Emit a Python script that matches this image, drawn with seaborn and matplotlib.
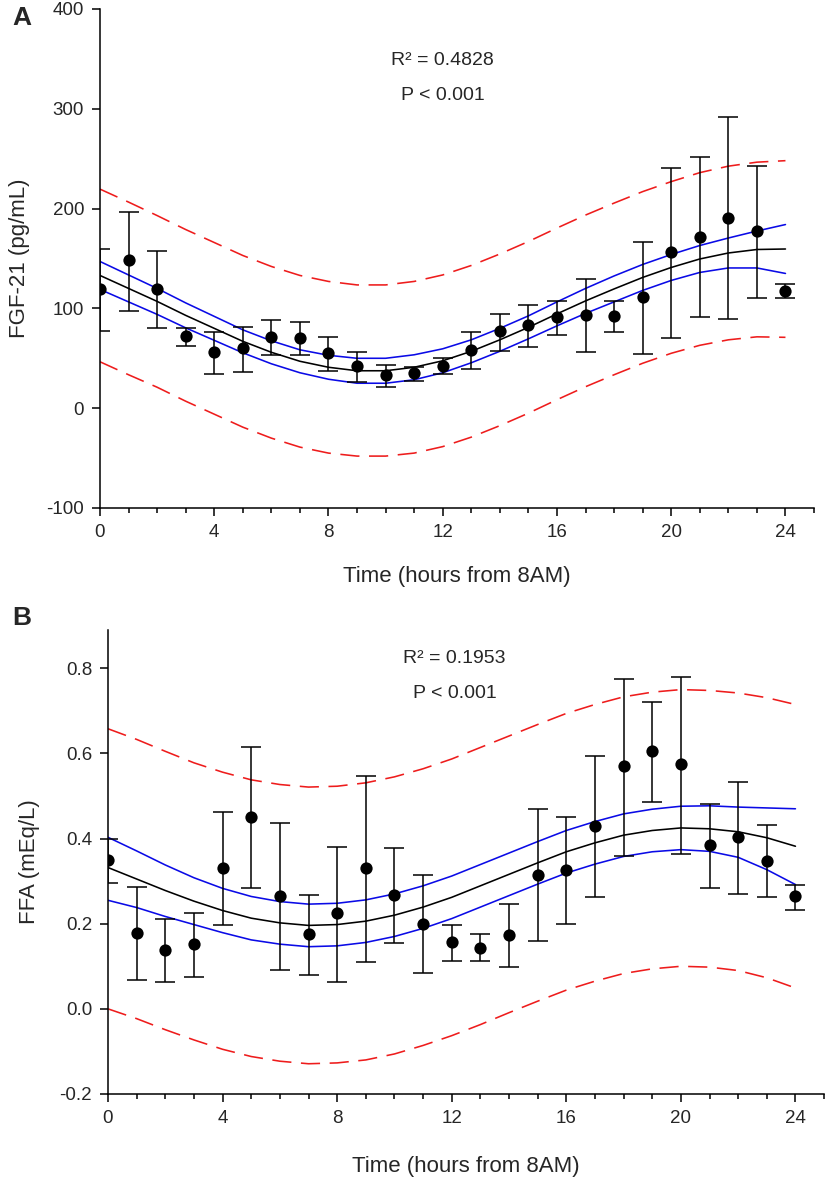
import numpy as np
import pandas as pd
import matplotlib
matplotlib.use("Agg")
import matplotlib.pyplot as plt
from matplotlib.ticker import MultipleLocator, FormatStrFormatter
import seaborn as sns

# hours from 8AM
hours = list(range(25))

# FGF-21 (pg/mL): mean with error bar ends
fgf_mean = [119, 148, 119, 72, 56, 60, 71, 70, 55, 42, 33, 35, 42, 58, 77, 83, 91, 93, 92, 111, 156, 172, 191, 178, 117]
fgf_hi = [159, 197, 157, 80, 76, 81, 88, 86, 71, 56, 43, 41, 50, 76, 94, 103, 107, 129, 107, 167, 241, 252, 292, 243, 124]
fgf_lo = [77, 97, 80, 62, 34, 36, 53, 53, 37, 26, 21, 27, 34, 39, 57, 61, 73, 56, 76, 54, 70, 91, 89, 110, 110]
# fitted curve, confidence band, prediction band
fgf_fit = [133, 120, 107, 93, 80, 67, 56, 47, 41, 37.5, 37.5, 41, 47.5, 57, 68.5, 81, 94.5, 107.5, 119.5, 131, 141, 149.5, 155.5, 159, 159.5]
fgf_ci_hi = [147, 133.5, 120, 105.5, 92, 78.5, 67.5, 58.5, 53, 50, 50, 53.5, 59.5, 68.5, 80, 92.5, 106.5, 120, 132.5, 144, 154, 163, 170.5, 177.5, 184]
fgf_ci_lo = [119, 106.5, 94, 80.5, 68, 55.5, 44.5, 35.5, 29, 25, 25, 28.5, 35.5, 45.5, 57, 69.5, 82.5, 95, 106.5, 118, 128, 136, 140.5, 140.5, 135]
fgf_pi_hi = [219.5, 206.5, 193, 179, 166, 153, 142, 133, 127, 123.5, 123.5, 127, 133.5, 143, 154.5, 167, 180.5, 193.5, 205.5, 217, 227, 236, 242.5, 246.5, 248]
fgf_pi_lo = [46.5, 33.5, 21, 7, -6, -19, -30, -39, -45, -48, -48, -45, -38.5, -29, -17.5, -5, 8.5, 21.5, 33.5, 45, 55, 63, 68.5, 71.5, 71]

# FFA (mEq/L)
ffa_mean = [0.350, 0.178, 0.138, 0.152, 0.332, 0.451, 0.266, 0.175, 0.224, 0.332, 0.267, 0.200, 0.156, 0.144, 0.174, 0.315, 0.327, 0.430, 0.570, 0.606, 0.575, 0.385, 0.403, 0.348, 0.264]
ffa_hi = [0.400, 0.286, 0.210, 0.224, 0.463, 0.615, 0.436, 0.268, 0.381, 0.548, 0.378, 0.315, 0.198, 0.176, 0.247, 0.470, 0.450, 0.595, 0.776, 0.722, 0.780, 0.482, 0.533, 0.431, 0.292]
ffa_lo = [0.295, 0.067, 0.062, 0.075, 0.197, 0.283, 0.091, 0.079, 0.064, 0.110, 0.154, 0.084, 0.113, 0.112, 0.098, 0.159, 0.200, 0.263, 0.360, 0.487, 0.364, 0.285, 0.269, 0.262, 0.232]
ffa_fit = [0.332, 0.305, 0.278, 0.253, 0.231, 0.213, 0.202, 0.196, 0.198, 0.206, 0.220, 0.239, 0.262, 0.289, 0.316, 0.343, 0.369, 0.390, 0.408, 0.419, 0.425, 0.423, 0.416, 0.402, 0.382]
ffa_ci_hi = [0.403, 0.371, 0.338, 0.308, 0.283, 0.264, 0.252, 0.246, 0.248, 0.256, 0.270, 0.289, 0.312, 0.339, 0.366, 0.393, 0.419, 0.440, 0.458, 0.469, 0.476, 0.477, 0.474, 0.472, 0.470]
ffa_ci_lo = [0.255, 0.238, 0.217, 0.198, 0.179, 0.162, 0.152, 0.146, 0.148, 0.156, 0.170, 0.189, 0.212, 0.239, 0.266, 0.293, 0.319, 0.340, 0.358, 0.369, 0.374, 0.370, 0.356, 0.327, 0.292]
ffa_pi_hi = [0.658, 0.633, 0.605, 0.578, 0.556, 0.538, 0.527, 0.521, 0.523, 0.531, 0.545, 0.564, 0.587, 0.614, 0.641, 0.668, 0.694, 0.715, 0.733, 0.744, 0.750, 0.748, 0.742, 0.731, 0.715]
ffa_pi_lo = [0.000, -0.023, -0.049, -0.073, -0.095, -0.112, -0.123, -0.129, -0.127, -0.120, -0.106, -0.086, -0.063, -0.037, -0.009, 0.018, 0.044, 0.065, 0.083, 0.094, 0.100, 0.098, 0.090, 0.073, 0.049]

sns.set_theme(style="ticks")
plt.rcParams['font.family'] = ['Liberation Sans', 'DejaVu Sans']
plt.rcParams['axes.unicode_minus'] = False

RED = "#ee1c1c"
BLUE = "#0a0ae6"
DASH = (0, (12, 6))


def draw_panel(ax, mean, hi, lo, fit, ci_hi, ci_lo, pi_hi, pi_lo):
    df = pd.DataFrame({"t": hours, "mean": mean, "hi": hi, "lo": lo, "fit": fit,
                       "ci_hi": ci_hi, "ci_lo": ci_lo, "pi_hi": pi_hi, "pi_lo": pi_lo})
    curves = [("pi_hi", RED, DASH), ("pi_lo", RED, DASH),
              ("ci_hi", BLUE, "-"), ("ci_lo", BLUE, "-"), ("fit", "black", "-")]
    for col, color, ls in curves:
        sns.lineplot(data=df, x="t", y=col, ax=ax, color=color, linewidth=1.15,
                     linestyle=ls, errorbar=None, zorder=2)
    m = np.array(mean)
    ax.errorbar(df["t"], m, yerr=[m - np.array(lo), np.array(hi) - m], fmt="none",
                ecolor="black", elinewidth=1.1, capsize=7, capthick=1.1, zorder=3)
    sns.scatterplot(data=df, x="t", y="mean", ax=ax, color="black", s=78,
                    linewidth=0, zorder=4)
    ax.set_xlim(0, 25)
    ax.set_xticks(range(0, 25, 4))
    ax.xaxis.set_minor_locator(MultipleLocator(1))
    sns.despine(ax=ax)
    for s in ["left", "bottom"]:
        ax.spines[s].set_color("black")
        ax.spines[s].set_linewidth(1.1)
    ax.tick_params(which="major", direction="out", length=5.5, width=1.1,
                   labelsize=13.5, pad=6, color="black")
    ax.tick_params(which="minor", direction="out", length=3.5, width=1.1, color="black")
    ax.tick_params(axis="y", which="minor", left=False)


fig = plt.figure(figsize=(8.25, 11.8), dpi=100)

# panel A
ax1 = fig.add_axes([0.1212, 0.5695, 0.8655, 0.4229])
draw_panel(ax1, fgf_mean, fgf_hi, fgf_lo, fgf_fit, fgf_ci_hi, fgf_ci_lo, fgf_pi_hi, fgf_pi_lo)
ax1.set_ylim(-100, 400)
ax1.set_yticks(range(-100, 401, 100))
ax1.set_xlabel("Time (hours from 8AM)", fontsize=16)
ax1.set_ylabel("FGF-21 (pg/mL)", fontsize=16)
ax1.xaxis.set_label_coords(0.5, -0.138)
ax1.xaxis.label.set_verticalalignment("center")
ax1.yaxis.set_label_coords(-0.113, 0.5)
ax1.yaxis.label.set_verticalalignment("center")
ax1.text(12, 348, "R² = 0.4828", ha="center", va="center", fontsize=14)
ax1.text(12, 313, "P < 0.001", ha="center", va="center", fontsize=14)

# panel B
ax2 = fig.add_axes([0.1309, 0.0729, 0.868, 0.3932])
draw_panel(ax2, ffa_mean, ffa_hi, ffa_lo, ffa_fit, ffa_ci_hi, ffa_ci_lo, ffa_pi_hi, ffa_pi_lo)
ax2.set_ylim(-0.2, 0.89)
ax2.set_yticks([-0.2, 0.0, 0.2, 0.4, 0.6, 0.8])
ax2.yaxis.set_major_formatter(FormatStrFormatter("%.1f"))
ax2.set_xlabel("Time (hours from 8AM)", fontsize=16)
ax2.set_ylabel("FFA (mEq/L)", fontsize=16)
ax2.xaxis.set_label_coords(0.5, -0.157)
ax2.xaxis.label.set_verticalalignment("center")
ax2.yaxis.set_label_coords(-0.11, 0.5)
ax2.yaxis.label.set_verticalalignment("center")
ax2.text(12.1, 0.8235, "R² = 0.1953", ha="center", va="center", fontsize=14)
ax2.text(12.1, 0.7412, "P < 0.001", ha="center", va="center", fontsize=14)

fig.text(12 / 825, 1 - 18 / 1180, "A", fontsize=19, fontweight="bold", ha="left", va="center")
fig.text(12 / 825, 1 - 618 / 1180, "B", fontsize=19, fontweight="bold", ha="left", va="center")

fig.savefig("out.png", dpi=100)
